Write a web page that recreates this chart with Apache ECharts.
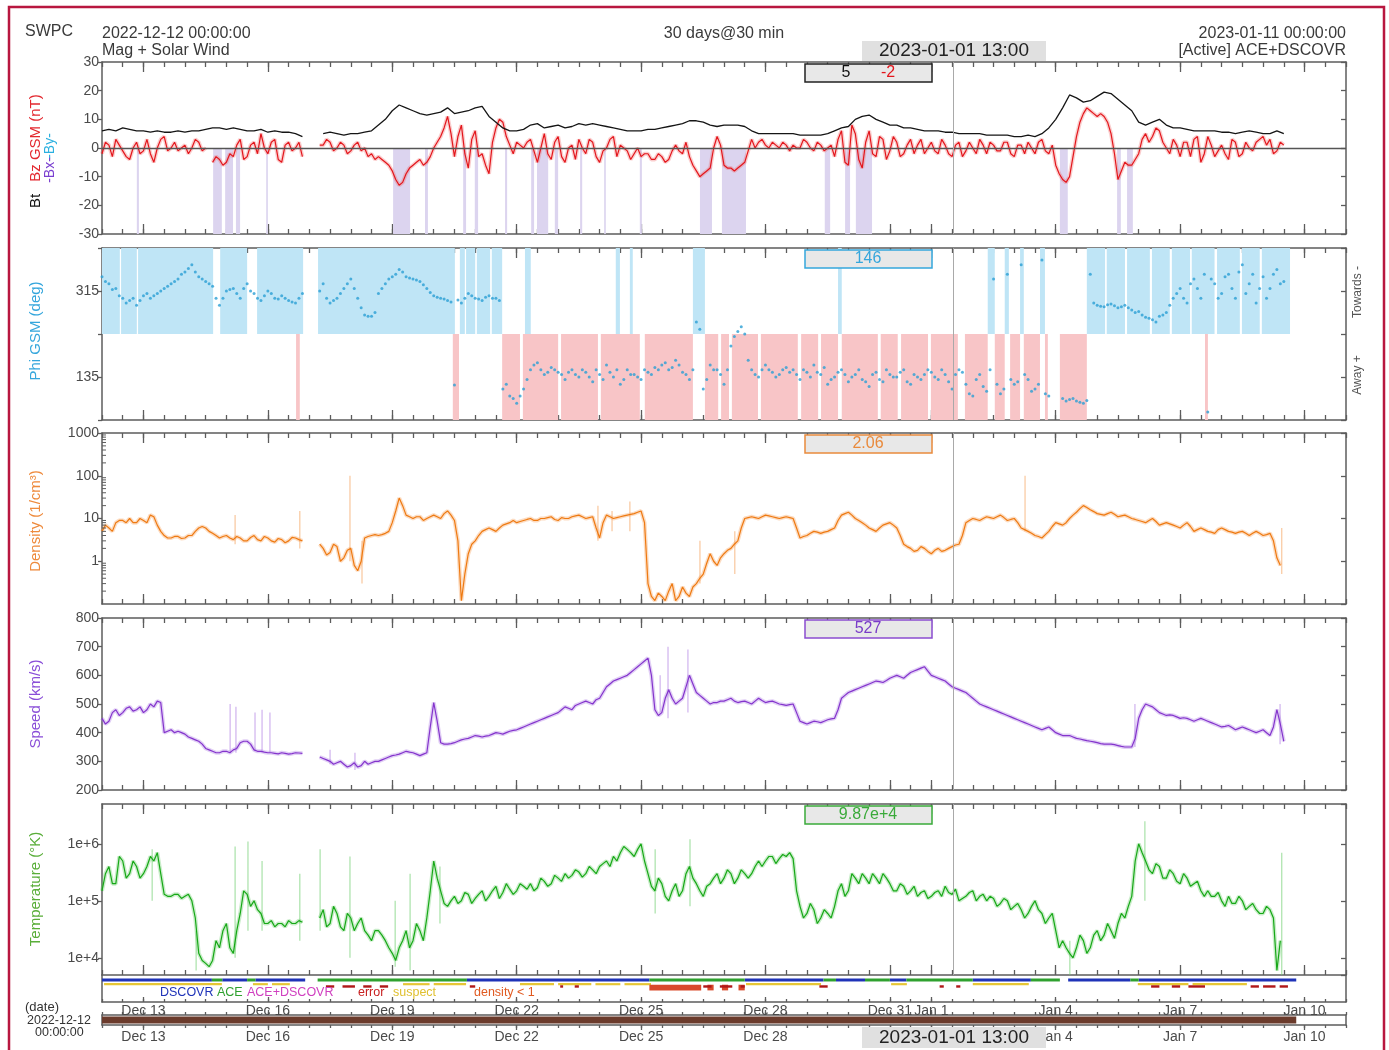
<!DOCTYPE html>
<html>
<head>
<meta charset="utf-8">
<title>SWPC Mag + Solar Wind</title>
<script src="https://cdn.jsdelivr.net/npm/echarts@6.0.0/dist/echarts.min.js"></script>
<style>
html,body{margin:0;padding:0;background:#fff;}
#chart{width:1389px;height:1050px;}
</style>
</head>
<body>
<div id="chart"></div>
<script>
// ---------- time axis: days since 2022-12-12 00:00 UTC ----------
const SAMPLE_STEP_DAYS = 1 / 6;           // main samples every 4 h; "Half" arrays are 2 h later
const CURSOR_DAY = 20 + 13 / 24;          // 2023-01-01 13:00
const tickDays = [1, 4, 7, 10, 13, 16, 19, 20, 23, 26, 29];
const tickLabels = ['Dec 13', 'Dec 16', 'Dec 19', 'Dec 22', 'Dec 25', 'Dec 28', 'Dec 31', 'Jan 1', 'Jan 4', 'Jan 7', 'Jan 10'];

// ---------- Mag panel (nT) ----------
const btValues = [
  6,6.5,6,7,6.5,6,6,5.5,6,5.5,
  5.5,6,5.5,6,6,6.5,7,7,6.5,7,
  6.5,6,6,6.5,5.5,6,5.5,5.5,5,4,
  null,null,5,5.5,5,4.5,5,5,5.5,6,
  8,10,13,15,14,13,12,11.5,12,12.5,
  14,12,12.5,13,14,14.5,11,9,7,6,
  6,6.5,8,8.5,7,7.5,8,7,7.5,8.5,
  8,8.5,8,7.5,7,6.5,6,6,6,6.5,
  6.5,7,7.5,8,8.5,9.5,9.5,9,8,7.5,
  8,8,8,7.5,6,5,5,5,5,5,
  5,4.5,4.5,4.5,4.5,5,6,7,7.5,10,
  11,11.5,10,9,8,8,7,7,6.5,6,
  6,6,5.5,5.5,5,5,5,5,4.5,4.5,
  4.5,4.5,4,4,4.5,4,5,7,10,14,
  18.5,17.5,16,16.5,18,19.5,19,17,15,13,
  9,8,9,10,8,7,7,6.5,6,6,
  6,6,5.5,5.5,5,5.5,6,5.5,5,5,6,5
];
const bzValues = [
  -2,1,3,-1,-4,2,-1,-2,0,4,
  0,-1,1,0,2,0,-5,-4,-5,-3,
  3,-3,2,5,-2,3,-5,2,0,-3,
  null,null,1,2,0,1,-1,2,0,-2,
  -3,-5,-8,-13,-9,-6,-4,-5,0,4,
  11,-3,8,-7,6,-2,-9,7,9,1,
  2,0,3,-5,5,-4,4,-5,1,3,
  -2,2,-5,0,4,1,-1,-2,-3,-2,
  -4,-3,-4,1,-2,-3,-8,-9,-7,4,
  -6,-7,-7,-5,3,2,1,2,0,1,
  1,0,2,-1,1,0,-3,6,-6,5,
  -7,6,-3,3,-1,2,-2,3,1,-2,
  2,-2,1,-3,2,-1,0,3,-2,1,
  -1,2,-3,1,2,-2,3,-2,-6,-11,
  -10,4,12,13,11,11,5,-11,-5,-6,
  -2,5,4,6,0,3,-3,2,3,-5,
  4,-3,1,-4,2,-2,0,2,4,3,-1,1
];
const bzValuesHalf = [
  2,-3,1,-3,0,-2,3,-5,3,-1,
  2,0,-2,3,-1,null,-3,-6,-2,1,
  -4,1,-2,0,2,-4,1,-1,2,null,
  null,1,3,-1,2,-2,1,-1,-3,-4,
  -4,-6,-11,-12,-7,-5,-6,-3,2,7,
  5,4,-2,3,-3,-6,2,10,4,-2,
  1,2,-1,0,-2,2,-3,0,-4,0,
  3,-3,-1,3,-3,0,-4,0,-2,-4,
  -2,-5,-1,-1,2,-6,-10,-8,0,1,
  -7,-8,-6,-1,0,3,0,1,2,-1,
  0,3,0,2,-1,1,3,-5,8,-4,
  2,-2,4,-4,4,-3,1,-2,3,0,
  -1,3,-2,1,-3,2,-2,1,2,-1,
  2,-2,1,-2,0,2,-1,1,-9,-12,
  -3,9,14,12,12,9,-2,-8,-6,-4,
  3,2,7,2,-2,1,2,-3,4,-2,
  1,-1,-2,3,-3,2,-1,3,1,-2,2,null
];
const southwardSpans = [
  [0.84,0.89],[2.68,2.89],[2.97,3.16],[3.23,3.33],[3.96,4.0],[7.02,7.43],[7.79,7.86],
  [8.71,8.78],[8.99,9.07],[9.72,9.77],[10.35,10.42],[10.49,10.76],[10.92,11.0],
  [11.53,11.58],[12.11,12.15],[12.97,13.02],[14.42,14.71],[14.95,15.53],[17.43,17.56],
  [17.92,18.04],[18.18,18.57],[23.1,23.29],[24.48,24.57],[24.72,24.86]
];

// ---------- Phi panel (deg) ----------
const phiValues = [
  345,330,320,300,295,285,305,300,310,320,
  330,340,355,370,345,335,325,285,315,320,
  300,330,310,295,315,300,305,295,290,310,
  null,null,330,290,300,320,340,300,265,262,
  310,330,345,360,345,340,335,320,305,300,
  295,118,290,310,300,295,305,300,110,95,
  80,110,150,165,140,155,145,130,150,135,
  145,125,140,160,135,120,150,140,130,145,
  155,160,150,170,145,130,250,110,160,150,
  120,200,230,225,150,135,160,145,140,155,
  150,130,145,160,140,120,135,150,125,140,
  130,115,145,125,140,135,150,120,135,140,
  145,130,140,110,150,120,95,140,105,340,
  100,350,120,370,130,110,380,95,null,90,
  88,85,80,350,285,282,288,280,285,275,
  272,260,255,262,270,300,320,290,340,300,
  62,330,310,350,300,370,330,290,345,320,360,335
];
const phiValuesHalf = [
  335,318,305,290,300,295,310,305,315,325,
  335,350,362,355,340,330,300,300,318,310,
  320,315,300,305,310,298,300,292,300,null,
  null,315,300,295,310,330,320,280,262,270,
  320,340,350,355,342,338,328,312,302,298,
  292,296,300,305,298,302,300,295,120,90,
  95,130,160,150,145,150,140,145,140,150,
  135,150,130,145,150,130,140,135,150,140,
  150,165,155,160,140,150,235,130,150,140,
  150,220,240,170,140,150,150,135,150,145,
  140,150,135,145,155,130,145,140,135,150,
  125,140,130,150,135,145,125,140,130,150,
  135,150,125,140,145,100,130,115,150,120,
  110,130,125,140,105,120,100,null,null,85,
  90,82,86,290,283,286,284,282,280,270,
  265,258,250,265,285,310,300,330,320,350,
  340,300,345,320,355,310,350,320,300,350,330,null
];
const towardsSpans = [
  [0,0.43],[0.46,0.84],[0.87,2.68],[2.85,3.5],[3.74,4.85],[5.21,8.51],[8.63,8.75],
  [8.78,9.0],[9.04,9.36],[9.4,9.65],[10.2,10.34],[12.39,12.49],[12.73,12.8],[14.25,14.54],
  [17.75,17.84],[21.36,21.53],[21.77,21.87],[22.14,22.23],[22.62,22.74],[23.75,24.19],
  [24.23,24.67],[24.72,25.27],[25.32,25.75],[25.8,26.24],[26.28,26.83],[26.89,27.44],
  [27.49,27.92],[27.97,28.65]
];
const awaySpans = [
  [4.68,4.77],[8.46,8.61],[9.65,10.08],[10.15,11.0],[11.07,11.96],[12.03,12.97],[13.09,14.25],
  [14.54,14.86],[14.93,15.12],[15.19,15.82],[15.89,16.78],[16.86,17.27],[17.34,17.75],
  [17.84,18.71],[18.78,19.19],[19.27,19.92],[19.99,20.64],[20.81,21.36],[21.53,21.77],
  [21.9,22.14],[22.23,22.62],[22.74,22.81],[23.1,23.75],[26.6,26.67]
];

// ---------- Density (1/cm3) ----------
const densityValues = [
  5,6,8,9,10,8,9,12,7,4,
  3.5,3.8,3.5,4,6,6,4.5,3.5,4,3.2,
  3.5,3,4,3,3.5,2.8,3.2,3,3.5,3,
  null,null,2,1.6,2.2,1.2,2,0.6,3.5,4,
  4,4.5,8,30,12,10,11,10,12,10,
  15,9,0.12,1.5,3,5,6,5,7,8,
  8,9,10,9,10,11,9,10,11,12,
  10,11,3.5,12,10,11,12,13,15,0.3,
  0.12,0.15,0.2,0.12,0.25,0.15,0.3,0.5,1.5,0.8,
  1.5,2,3,10,11,10,12,11,10,11,
  10,3.5,4,5,4.5,5,6,12,14,10,
  8,6,5,7,8,6,2.5,2,1.8,2,
  1.5,2,1.8,2.2,2.5,8,10,9,11,10,
  12,9,10,6,5,4,3.5,5,8,7,
  10,14,20,16,13,12,14,11,12,10,
  9,8,10,7,8,7,6,8,5,6,
  5,4.5,6,5,4.5,5,4,5,4,4.5,1.2,null
];
const densityValuesHalf = [
  7,5,9,8,8,10,8,11,5,3.5,
  3.8,3.4,4,5,6.5,5,4,3.8,3.5,3.8,
  3,3.6,3.2,3.8,3,3.4,2.7,3.6,3.2,null,
  null,2.5,1.4,2.5,1,1.8,0.8,1,3.8,4.2,
  4.2,5,15,20,11,11,9,11,11,13,
  12,3,0.5,2.5,4,5.5,5.5,6,7.5,9,
  8.5,9.5,9,10,10.5,9.5,10.5,10,11.5,11,
  10.5,6,8,11,10.5,11.5,12.5,14,8,0.15,
  0.18,0.12,0.3,0.15,0.18,0.25,0.4,0.9,1,1.2,
  1.8,2.5,6,10.5,10.5,11,11.5,10.5,10.5,10.5,
  6,3.8,4.5,4.8,4.8,5.5,9,13,12,9,
  7,5.5,6,7.5,7,4,2.2,1.7,2.2,1.7,
  1.8,1.7,2,2.4,4,9,9.5,10,10.5,11,
  10.5,9.5,8,5.5,4.5,3.8,4.2,6.5,7.5,8,
  12,17,18,14.5,12.5,13,12.5,11.5,11,9.5,
  8.5,9,8.5,7.5,7.5,6.5,7,6.5,5.5,5.5,
  4.8,5.5,5.5,4.8,4.8,4.5,4.5,4.5,4.2,3,0.8,null
];
const densitySpikes = [
  [3.21,2.5,12],[4.77,2,15],[5.98,1,100],[6.27,0.3,3],[11.96,3,20],[12.3,5,15],
  [12.73,5,25],[14.42,0.3,3],[15.26,0.5,5],[22.26,5,100],[28.45,0.5,6]
];

// ---------- Speed (km/s) ----------
const speedValues = [
  450,440,480,470,490,480,470,500,510,400,
  410,405,395,380,370,345,335,330,335,340,
  365,370,340,335,330,328,330,325,330,328,
  null,null,310,300,295,290,285,280,300,295,
  300,310,320,325,335,330,320,330,505,365,
  360,365,375,380,390,385,390,400,395,405,
  410,420,430,440,450,460,470,490,480,500,
  510,500,520,560,580,590,600,620,640,660,
  480,470,550,500,520,600,540,520,500,505,
  510,520,505,510,500,520,505,510,500,495,
  500,440,430,440,435,445,450,520,540,550,
  560,570,580,575,590,600,590,610,620,630,
  600,590,580,560,550,540,520,500,490,480,
  470,460,450,440,430,420,410,420,400,390,
  390,380,375,370,365,360,360,355,350,350,
  450,500,490,470,460,460,450,450,440,450,
  440,430,420,425,410,420,410,400,410,390,480,370
];
const speedValuesHalf = [
  430,470,460,485,475,490,480,490,505,405,
  400,400,385,375,360,340,330,335,330,345,
  370,360,335,332,330,326,328,327,329,null,
  null,315,305,290,300,280,295,285,290,300,
  305,315,322,330,332,325,325,420,440,360,
  362,370,378,385,388,388,395,398,400,408,
  415,425,435,445,455,465,480,485,495,505,
  505,515,540,570,585,595,610,630,650,600,
  460,520,520,510,560,570,530,510,505,510,
  515,510,508,505,510,512,508,505,498,498,
  470,435,435,438,440,448,480,530,545,555,
  565,575,578,582,595,595,600,615,625,615,
  595,585,570,555,545,530,510,495,485,475,
  465,455,445,435,425,415,415,410,395,390,
  385,378,372,368,362,360,358,352,350,380,
  480,495,480,465,462,455,452,445,445,445,
  435,425,422,418,415,415,405,405,400,420,430,null
];
const speedSpikes = [
  [3.09,330,500],[3.23,330,490],[3.69,335,470],[3.86,335,480],[4.05,330,470],
  [5.5,290,340],[6.1,270,330],[13.46,470,600],[13.65,450,700],[14.13,470,690],
  [24.91,350,500],[28.41,360,500]
];

// ---------- Temperature (K) ----------
const tempValues = [
  1.5e5,4e5,2e5,5e5,3e5,4e5,3e5,6e5,7e5,1.3e5,
  1.2e5,1.3e5,1.2e5,1e5,1.2e4,8e3,9e3,1.5e4,4e4,1.2e4,
  6e4,1.3e5,1e5,6e4,4e4,3.5e4,4e4,4.5e4,4e4,4.2e4,
  null,null,7e4,4e4,6e4,3e4,5e4,4e4,3e4,2e4,
  3e4,2e4,1.2e4,1.5e4,3e4,2e4,3e4,5e4,5e5,1.5e5,
  8e4,1.2e5,1e5,1.3e5,1.1e5,1.5e5,1.2e5,1.8e5,1.4e5,1.6e5,
  1.5e5,1.8e5,2e5,1.7e5,2.2e5,2e5,2.5e5,3e5,2.8e5,3.2e5,
  3e5,3.5e5,4e5,5e5,6e5,7e5,8e5,6e5,1e6,3e5,
  1.5e5,2e5,1e5,2e5,1.5e5,4e5,2e5,1.2e5,2e5,3e5,
  2.5e5,3e5,2.5e5,3e5,3e5,5e5,5e5,6e5,5.5e5,6e5,
  5.5e5,8e4,6e4,7e4,5e4,6e4,8e4,2e5,1.5e5,2.5e5,
  3e5,2e5,2.5e5,3e5,2e5,1.5e5,1.8e5,1.5e5,1.2e5,1.5e5,
  1.2e5,1.5e5,1.8e5,1.3e5,1e5,1.2e5,1.5e5,1.2e5,1e5,1.1e5,
  9e4,1e5,8e4,7e4,6e4,1e5,6e4,5e4,3e4,2e4,
  1.2e4,1.5e4,2e4,1.5e4,3e4,2.5e4,3e4,4e4,5e4,1.2e5,
  1e6,5e5,3e5,4e5,2.5e5,3e5,2e5,2.5e5,2e5,1.5e5,
  1.5e5,1.2e5,1e5,1.2e5,9e4,1e5,8e4,7e4,6e4,7e4,6e3,null
];
const tempValuesHalf = [
  3e5,2e5,6e5,2.5e5,5e5,2.5e5,4e5,5e5,3e5,1.2e5,
  1.3e5,1.1e5,1.3e5,5e4,9e3,7e3,2e4,3e4,1.5e4,3e4,
  1.5e5,8e4,7e4,4e4,4.5e4,4e4,3.5e4,4e4,4.5e4,null,
  null,5e4,3.5e4,8e4,3.5e4,6e4,3e4,5e4,2.5e4,3e4,
  2.5e4,1.5e4,9e3,2e4,1.5e4,4e4,2e4,1.5e5,2.5e5,9e4,
  1e5,9e4,1.4e5,9e4,1.3e5,1e5,1.5e5,1.1e5,2e5,1.3e5,
  2e5,1.6e5,1.5e5,2.5e5,1.8e5,2.8e5,2.2e5,2.5e5,3.5e5,2.6e5,
  4e5,3e5,4.5e5,4e5,5e5,9e5,7e5,8e5,5e5,1.8e5,
  2.5e5,1.2e5,1.5e5,1.2e5,3e5,2.5e5,1.5e5,1.8e5,2.5e5,2e5,
  3.5e5,2e5,3.5e5,2.5e5,4e5,4e5,6e5,4.5e5,6.5e5,7e5,
  1.5e5,5e4,9e4,4e4,7e4,5e4,1.5e5,1.2e5,3e5,2e5,
  2.5e5,3e5,2e5,2.5e5,1.5e5,2e5,1.3e5,1.8e5,1.4e5,1.1e5,
  1.4e5,1.2e5,1.4e5,1.6e5,1.1e5,1.4e5,1e5,1.3e5,1.2e5,8e4,
  1.1e5,7e4,9e4,5e4,8e4,7e4,4e4,6e4,1.5e4,1.5e4,
  1e4,2.5e4,1.2e4,2.5e4,2e4,4e4,2.2e4,6e4,8e4,5e5,
  7e5,3.5e5,4.5e5,2.5e5,3.5e5,2.2e5,3e5,1.8e5,2.2e5,1.2e5,
  1.2e5,1.4e5,8e4,9e4,1.2e5,7e4,9e4,6e4,8e4,5e4,2e4,null
];
const tempSpikes = [
  [1.21,1e5,8e5],[2.27,6e3,3e4],[3.21,1e4,9e5],[3.52,3e4,1.1e6],[3.86,3e4,5e5],
  [4.77,2e4,3e5],[5.26,3e4,8e5],[5.98,1e4,6e5],[7.07,7e3,1e5],[7.43,6e3,3e5],
  [8.15,4e4,4e5],[13.34,6e4,8e5],[14.18,8e4,1.2e6],[23.34,5e3,2e4],[25.15,1e5,2.5e6],
  [28.45,5e3,7e5]
];

// ---------- data-quality strip ----------
const sourceDscovrSpans = [[0,2.65],[2.9,3.5],[3.7,4.9],[8.8,13.2],[15.5,17.4],[17.7,18.4],[19.0,19.4],[21.0,22.4],[23.3,24.8],[25.0,28.8]];
const sourceAceSpans = [[2.65,2.9],[3.5,3.7],[5.2,8.8],[13.2,15.5],[17.4,17.7],[18.4,19.0],[19.4,21.0],[22.4,23.1],[24.8,25.0]];
const suspectSpans = [[0.05,2.89],[3.64,4.0],[4.1,4.53],[7.26,7.9],[8.0,8.78],[10.08,10.9],[11.0,11.8],[11.9,12.5],[12.6,13.24],[15.53,17.34],[19.03,19.41],[21.0,22.35],[24.98,26.2],[26.3,27.61]];
const errorSpans = [[5.4,5.6],[5.8,6.1],[6.3,6.5],[6.7,6.9],[8.87,9.0],[11.05,11.12],[11.4,11.5],[14.5,14.7],[14.9,15.2],[15.4,15.5],[17.3,17.5],[20.2,20.3],[20.6,20.7],[25.3,25.5],[25.8,26.0],[26.2,26.6],[27.7,27.9],[28.0,28.3],[28.4,28.6]];
const lowDensitySpans = [[13.2,14.45],[14.6,14.75],[14.95,15.1],[15.35,15.5]];
const coverageSpans = [[0,28.8]];

// ---------- readouts ----------
const readBt = '5', readBz = '-2', readPhi = '146', readDensity = '2.06', readSpeed = '527', readTemp = '9.87e+4';

// ================= build chart =================
const FONT = '"Liberation Sans", Arial, Helvetica, sans-serif';
const AXC = '#5c5c5c';
const axLine = {show: true, onZero: false, lineStyle: {color: AXC, width: 1.5}};
const noLine = {show: false, onZero: false};
const lblStyle = {color: '#4a4a4a', fontSize: 14, fontFamily: FONT, hideOverlap: false};
const HALF_DAYS = Array.from({length: 61}, (_, i) => String(i));
const isLongIdx = i => tickDays.indexOf(i / 2) >= 0;
const labelForIdx = i => { const k = tickDays.indexOf(Number(i) / 2); return k >= 0 ? tickLabels[k] : ''; };

// minor log ticks (2..9 of each decade) for the density axis
const densityMinorTicks = [];
[0.1, 1, 10, 100].forEach(d => { for (let m = 2; m <= 9; m++) densityMinorTicks.push([0, +(d * m).toPrecision(3)]); });

const samplePts = (vals, half) => {
  const o = [];
  vals.forEach((v, i) => {
    o.push([i * SAMPLE_STEP_DAYS, v]);
    if (half) o.push([(i + 0.5) * SAMPLE_STEP_DAYS, half[i]]);
  });
  return o;
};
const spikePts = sp => { const o = []; sp.forEach(s => { o.push([s[0], s[1]], [s[0], s[2]], [s[0], null]); }); return o; };
const areaPairs = (spans, y0, y1, color) => spans.map(s => [{xAxis: s[0], yAxis: y0, itemStyle: {color}}, {xAxis: s[1], yAxis: y1}]);

const grids = [
  {top: 62, height: 172}, {top: 248, height: 172}, {top: 433, height: 171},
  {top: 618, height: 172}, {top: 804, height: 171}, {top: 975, height: 27}, {top: 1015, height: 10}
].map(g => Object.assign({left: 102, width: 1244, containLabel: false, outerBoundsMode: 'none', show: false}, g));

// 5 x axes per grid: [0] data value axis (hidden), [1] bottom short ticks + line,
// [2] bottom long ticks + labels, [3] top short ticks + line, [4] top long ticks
const xAxes = [];
function addXAxes(g, o) {
  const ts = {color: AXC, width: 1.3};
  const inside = !o.outside;
  const sLen = o.sLen || 5, lLen = o.lLen || 10;
  const cat = (pos, extra) => Object.assign({type: 'category', gridIndex: g, position: pos, data: HALF_DAYS,
    boundaryGap: false, axisLine: noLine, axisLabel: {show: false}, splitLine: {show: false}}, extra);
  xAxes.push({type: 'value', gridIndex: g, position: 'bottom', min: 0, max: 30, interval: 0.5,
    axisLine: noLine, axisTick: {show: false}, axisLabel: {show: false}, splitLine: {show: false}});
  xAxes.push(cat('bottom', {axisLine: axLine, axisTick: {show: true, inside, length: sLen, interval: 0, lineStyle: ts}}));
  xAxes.push(cat('bottom', {axisTick: {show: true, inside, length: lLen, interval: (i) => isLongIdx(i), lineStyle: ts},
    axisLabel: o.labels ? Object.assign({}, lblStyle, {show: true, margin: o.margin, interval: (i) => isLongIdx(i), formatter: (v) => labelForIdx(v)}) : {show: false}}));
  xAxes.push(cat('top', {axisLine: o.noTop ? noLine : axLine, axisTick: {show: !o.noTop, inside, length: sLen, interval: 0, lineStyle: ts}}));
  xAxes.push(cat('top', {axisTick: {show: !o.noTop, inside, length: lLen, interval: (i) => isLongIdx(i), lineStyle: ts}}));
}
for (let g = 0; g < 5; g++) addXAxes(g, {});
addXAxes(5, {noTop: true, labels: true, margin: 2, sLen: 3, lLen: 5});
addXAxes(6, {labels: true, margin: 5, outside: true, sLen: 3, lLen: 5});

const yAxes = [];
function addYAxes(g, scale, label, ticks) {
  const show = ticks !== false;
  yAxes.push(Object.assign({gridIndex: g, position: 'left', axisLine: axLine,
    axisTick: {show, inside: false, length: 4, lineStyle: {color: AXC, width: 1.3}},
    axisLabel: label ? Object.assign({}, lblStyle, {show: true, margin: 3}, label) : {show: false},
    splitLine: {show: false}}, scale));
  yAxes.push(Object.assign({gridIndex: g, position: 'right', axisLine: axLine,
    axisTick: {show, inside: true, length: 5, lineStyle: {color: AXC, width: 1.3}},
    axisLabel: {show: false}, splitLine: {show: false}}, scale));
}
addYAxes(0, {type: 'value', min: -30, max: 30, interval: 10}, {});
addYAxes(1, {type: 'value', min: 45, max: 405, interval: 90}, {formatter: v => (v === 135 || v === 315) ? String(v) : ''});
addYAxes(2, {type: 'log', logBase: 10, min: 0.1, max: 1000}, {showMinLabel: false, formatter: v => v >= 1 ? String(Math.round(v)) : ''});
addYAxes(3, {type: 'value', min: 200, max: 800, interval: 100}, {});
addYAxes(4, {type: 'log', logBase: 10, min: 5000, max: 5e6}, {showMinLabel: false, showMaxLabel: false,
  formatter: v => { const l = Math.log10(v), e = Math.round(l); return Math.abs(l - e) < 1e-6 ? '1e+' + e : ''; }});
addYAxes(5, {type: 'value', min: 0, max: 10}, null, false);
addYAxes(6, {type: 'value', min: 0, max: 10}, null, false);

const series = [];
const X = g => g * 5, Y = g => g * 2;
function holder(g, extra) {
  series.push(Object.assign({type: 'line', xAxisIndex: X(g), yAxisIndex: Y(g), data: [[0, null]], symbol: 'none',
    silent: true, animation: false, lineStyle: {opacity: 0}, z: 1}, extra));
}
function line(g, pts, color, width, z) {
  series.push({type: 'line', xAxisIndex: X(g), yAxisIndex: Y(g), data: pts, symbol: 'none', showSymbol: false,
    connectNulls: false, silent: true, animation: false, lineStyle: {color, width}, z, emphasis: {disabled: true}});
}
const cursorLine = {silent: true, symbol: ['none', 'none'], label: {show: false}, animation: false,
  data: [{xAxis: CURSOR_DAY, lineStyle: {color: '#a9a9a9', width: 1, type: 'solid'}}]};

// panel 0: magnetic field
holder(0, {markArea: {silent: true, data: areaPairs(southwardSpans, 0, -30, '#dcd4ef')}});
holder(0, {z: 2, markLine: {silent: true, symbol: ['none', 'none'], label: {show: false}, animation: false,
  data: [{yAxis: 0, lineStyle: {color: '#555', width: 1.3, type: 'solid'}}, {xAxis: CURSOR_DAY, lineStyle: {color: '#a9a9a9', width: 1, type: 'solid'}}]}});
line(0, samplePts(bzValues, bzValuesHalf), 'rgba(240,90,90,0.3)', 4, 2);
line(0, samplePts(bzValues, bzValuesHalf), '#e3161c', 1.2, 3);
line(0, samplePts(btValues), '#151515', 1.3, 4);

// panel 1: phi
holder(1, {markArea: {silent: true, data: areaPairs(towardsSpans, 225, 405, '#bfe5f6').concat(areaPairs(awaySpans, 45, 225, '#f8c5c7'))}});
holder(1, {z: 2, markLine: cursorLine});
series.push({type: 'scatter', xAxisIndex: X(1), yAxisIndex: Y(1), data: samplePts(phiValues, phiValuesHalf),
  symbol: 'circle', symbolSize: 3, itemStyle: {color: '#2a9fd4'}, silent: true, animation: false, z: 3});

// panel 2: density
holder(2, {z: 2, markLine: cursorLine});
series.push({type: 'custom', xAxisIndex: X(2), yAxisIndex: Y(2), data: densityMinorTicks, silent: true, animation: false, z: 5,
  encode: {x: 0, y: 1},
  renderItem: (params, api) => {
    const p = api.coord([0, api.value(1)]);
    return {type: 'line', shape: {x1: p[0], y1: p[1], x2: p[0] + 4, y2: p[1]}, style: {stroke: AXC, lineWidth: 1}};
  }});
line(2, spikePts(densitySpikes), 'rgba(244,160,90,0.55)', 1.3, 2);
line(2, samplePts(densityValues, densityValuesHalf), 'rgba(245,150,70,0.33)', 4, 2);
line(2, samplePts(densityValues, densityValuesHalf), '#ee7a12', 1.2, 3);

// panel 3: speed
holder(3, {z: 2, markLine: cursorLine});
line(3, spikePts(speedSpikes), 'rgba(175,125,225,0.55)', 1.3, 2);
line(3, samplePts(speedValues, speedValuesHalf), 'rgba(165,110,225,0.33)', 4, 2);
line(3, samplePts(speedValues, speedValuesHalf), '#8434cc', 1.2, 3);

// panel 4: temperature
holder(4, {z: 2, markLine: cursorLine});
line(4, spikePts(tempSpikes), 'rgba(110,205,110,0.55)', 1.3, 2);
line(4, samplePts(tempValues, tempValuesHalf), 'rgba(90,200,90,0.33)', 4, 2);
line(4, samplePts(tempValues, tempValuesHalf), '#17a817', 1.2, 3);

// panel 5: quality strip
holder(5, {markArea: {silent: true, data: []
  .concat(areaPairs(sourceDscovrSpans, 7.6, 8.7, '#1f33b8'))
  .concat(areaPairs(sourceAceSpans, 7.6, 8.7, '#2fa12f'))
  .concat(areaPairs(suspectSpans, 6.2, 7.0, '#e6c635'))
  .concat(areaPairs(lowDensitySpans, 4.3, 6.4, '#d94a2a'))
  .concat(areaPairs(errorSpans, 5.3, 6.2, '#b01818'))}});

// panel 6: date range bar
holder(6, {markArea: {silent: true, data: areaPairs(coverageSpans, 1.5, 8.5, '#6b3b2c')}});

// ---------- graphic texts ----------
function gText(x, y, text, size, color, align, rot) {
  return {type: 'text', x, y, rotation: rot || 0, z: 30, silent: true,
    style: {text, font: size + 'px ' + FONT, fill: color, align: align || 'left', textAlign: align || 'left',
      verticalAlign: 'middle', textVerticalAlign: 'middle'}};
}
function gRect(x, y, w, h, fill, stroke, lw, z) {
  return {type: 'rect', z: z || 25, silent: true, shape: {x, y, width: w, height: h},
    style: {fill, stroke: stroke || null, lineWidth: lw || 1}};
}
const R = Math.PI / 2;
const graphics = [
  gRect(9, 7, 1375, 1070, 'none', '#b8173f', 2.5, 40),
  gText(25, 32, 'SWPC', 16, '#3a3a3a'),
  gText(102, 34, '2022-12-12 00:00:00', 16, '#3a3a3a'),
  gText(102, 51, 'Mag + Solar Wind', 16, '#3a3a3a'),
  gText(724, 34, '30 days@30 min', 16, '#3a3a3a', 'center'),
  gText(1346, 34, '2023-01-11 00:00:00', 16, '#3a3a3a', 'right'),
  gText(1346, 51, '[Active] ACE+DSCOVR', 16, '#3a3a3a', 'right'),
  gRect(862, 41, 184, 20, '#e0e0e0'),
  gText(954, 51, '2023-01-01 13:00', 19, '#222', 'center'),
  gRect(862, 1027, 184, 21, '#e0e0e0'),
  gText(954, 1038, '2023-01-01 13:00', 19, '#222', 'center'),
  // readout boxes
  gRect(805, 64, 127, 18, '#e8e8e8', '#222', 1.5),
  gText(846, 73, readBt, 16, '#111', 'center'),
  gText(888, 73, readBz, 16, '#e3161c', 'center'),
  gRect(805, 250, 127, 18, '#e8e8e8', '#35a6dc', 1.5),
  gText(868, 259, readPhi, 16, '#35a6dc', 'center'),
  gRect(805, 435, 127, 18, '#e8e8e8', '#e98a3c', 1.5),
  gText(868, 444, readDensity, 16, '#e98a3c', 'center'),
  gRect(805, 620, 127, 18, '#e8e8e8', '#8a4cd0', 1.5),
  gText(868, 629, readSpeed, 16, '#7a3cc8', 'center'),
  gRect(805, 806, 127, 18, '#e8e8e8', '#3aaa3a', 1.5),
  gText(868, 815, readTemp, 16, '#3aaa3a', 'center'),
  // axis names
  gText(36, 138, 'Bz GSM (nT)', 15, '#e3282f', 'center', R),
  gText(50, 146, '-By-', 14, '#2ab0e0', 'center', R),
  gText(50, 170, '-Bx-', 14, '#7a3fd0', 'center', R),
  gText(36, 201, 'Bt', 15, '#111', 'center', R),
  gText(36, 331, 'Phi GSM (deg)', 15, '#35a6dc', 'center', R),
  gText(36, 521, 'Density (1/cm³)', 15, '#ee8a3c', 'center', R),
  gText(36, 704, 'Speed (km/s)', 15, '#8a4fd8', 'center', R),
  gText(36, 889, 'Temperature (°K)', 15, '#5aae3a', 'center', R),
  gText(1358, 292, 'Towards -', 12, '#555', 'center', R),
  gText(1358, 375, 'Away +', 12, '#555', 'center', R),
  // strip legend
  gText(160, 993, 'DSCOVR', 12.5, '#1f33b8'),
  gText(217, 993, 'ACE', 12.5, '#2fa12f'),
  gText(247, 993, 'ACE+DSCOVR', 12.5, '#d040c0'),
  gText(358, 993, 'error', 12.5, '#c82020'),
  gText(393, 993, 'suspect', 12.5, '#e0c030'),
  gText(474, 993, 'density < 1', 12.5, '#e05a20'),
  // bottom-left date labels
  gText(25, 1007, '(date)', 13, '#333'),
  gText(27, 1021, '2022-12-12', 12.5, '#333'),
  gText(35, 1033, '00:00:00', 12.5, '#333')
];

const chart = echarts.init(document.getElementById('chart'), null, {renderer: 'canvas', width: 1389, height: 1050});
chart.setOption({
  animation: false,
  backgroundColor: '#ffffff',
  textStyle: {fontFamily: FONT},
  grid: grids,
  xAxis: xAxes,
  yAxis: yAxes,
  series: series,
  graphic: {elements: graphics}
});
</script>
</body>
</html>
